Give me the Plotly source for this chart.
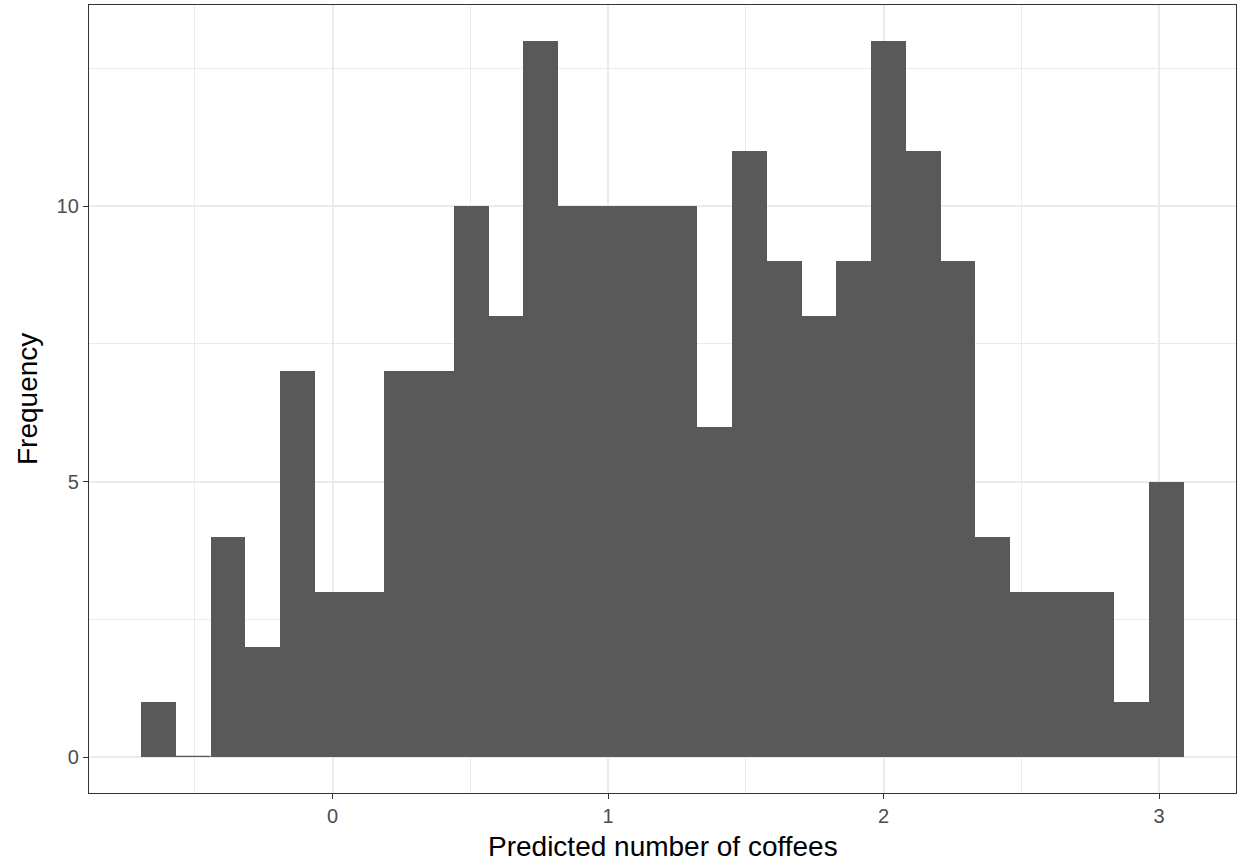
import numpy as np
import plotly.graph_objects as go

# Histogram data (30 bins)
bin_start = -0.695
bin_end = 3.090
counts = [1, 0, 4, 2, 7, 3, 3, 7, 7, 10, 8, 13, 10, 10, 10, 10, 6, 11, 9, 8,
          9, 13, 11, 9, 4, 3, 3, 3, 1, 5]
x_ticks = [0, 1, 2, 3]
y_ticks = [0, 5, 10]

n_bins = len(counts)
edges = np.linspace(bin_start, bin_end, n_bins + 1)
width = edges[1] - edges[0]
centers = (edges[:-1] + edges[1:]) / 2

fill = "#595959"
fig = go.Figure()
fig.add_trace(go.Bar(
    x=centers, y=counts, width=[width] * n_bins,
    marker=dict(color=fill,
                line=dict(color=fill, width=[1.2 if c == 0 else 0 for c in counts])),
    hoverinfo="x+y", showlegend=False,
))

span_x = bin_end - bin_start
xr = [bin_start - 0.05 * span_x, bin_end + 0.05 * span_x]
ymax = max(counts)
yr = [-0.05 * ymax, ymax * 1.05]

grid = "#EBEBEB"
fig.update_layout(
    width=1238, height=862,
    margin=dict(l=89, r=2, t=5, b=69, autoexpand=False),
    paper_bgcolor="white", plot_bgcolor="white",
    font=dict(family="Liberation Sans, Arial, sans-serif"),
    bargap=0,
    xaxis=dict(
        range=xr, tickvals=x_ticks, ticktext=[str(v) for v in x_ticks],
        showgrid=True, gridcolor=grid, gridwidth=1.5,
        minor=dict(tickvals=[-0.5, 0.5, 1.5, 2.5], showgrid=True, gridcolor=grid, gridwidth=0.8, ticks=""),
        showline=True, linecolor="#333333", linewidth=1.3, mirror=True,
        ticks="outside", ticklen=5, tickwidth=1.3, tickcolor="#333333",
        tickfont=dict(size=20, color="#4D4D4D"),
        automargin=False, zeroline=False,
    ),
    yaxis=dict(
        range=yr, tickvals=y_ticks, ticktext=[str(v) for v in y_ticks],
        showgrid=True, gridcolor=grid, gridwidth=1.5,
        minor=dict(tickvals=[2.5, 7.5, 12.5], showgrid=True, gridcolor=grid, gridwidth=0.8, ticks=""),
        showline=True, linecolor="#333333", linewidth=1.3, mirror=True,
        ticks="outside", ticklen=5, tickwidth=1.3, tickcolor="#333333",
        tickfont=dict(size=20, color="#4D4D4D"),
        automargin=False, zeroline=False,
    ),
    annotations=[
        dict(text="Predicted number of coffees", xref="paper", yref="paper",
             x=0.5, y=0, yshift=-53, xanchor="center", yanchor="middle",
             showarrow=False, font=dict(size=28, color="black")),
        dict(text="Frequency", xref="paper", yref="paper",
             x=0, y=0.5, xshift=-62, xanchor="center", yanchor="middle",
             textangle=-90, showarrow=False, font=dict(size=28, color="black")),
    ],
)

fig.write_html("out.html", config={"displayModeBar": False},
               post_script="document.body.style.margin='0';document.body.style.overflow='hidden';")
